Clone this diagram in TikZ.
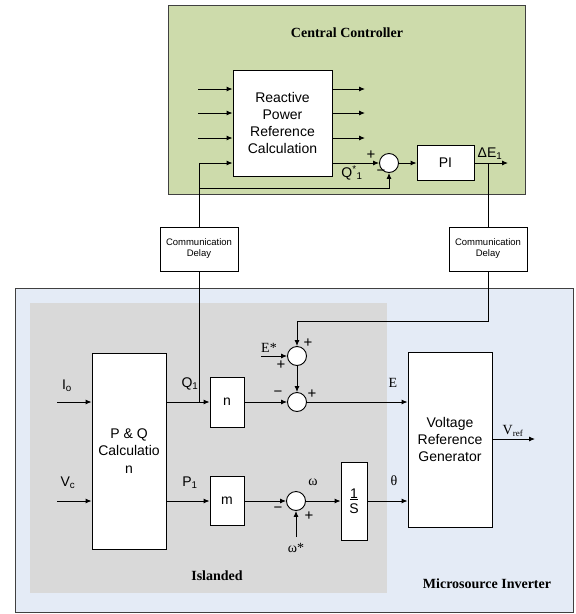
\documentclass[tikz,border=0pt]{standalone}
\usepackage{fontspec}
\setmainfont{Liberation Serif}
\setsansfont{Liberation Sans}
\usetikzlibrary{arrows.meta}
\definecolor{ccgreen}{HTML}{CDDBAB}
\definecolor{invblue}{HTML}{E4EBF6}
\definecolor{islgray}{HTML}{D9D9D9}
\definecolor{frame}{HTML}{404040}
\begin{document}
\begin{tikzpicture}[x=1pt,y=-1pt,line width=0.9pt,
  blk/.style={draw,fill=white,font=\sffamily\fontsize{14}{17.3}\selectfont,align=center,inner sep=0pt},
  cdbox/.style={draw,fill=white,font=\sffamily\fontsize{9.5}{11}\selectfont,align=center,inner sep=0pt,minimum width=78pt,minimum height=44pt,line width=0.7pt},
  sumc/.style={draw,fill=white,circle,minimum size=19pt,inner sep=0pt},
  arr/.style={-{Latex[length=6pt,width=5pt]}},
  slbl/.style={font=\sffamily\fontsize{14}{16}\selectfont,inner sep=0pt},
  rlbl/.style={font=\fontsize{14}{16}\selectfont,inner sep=0pt},
  sgn/.style={font=\sffamily\fontsize{15}{16}\selectfont,inner sep=0pt},
  title/.style={font=\bfseries\fontsize{14}{16}\selectfont,inner sep=0pt}]
\useasboundingbox (0,0) rectangle (576,614);
% containers
\filldraw[fill=ccgreen,draw=frame] (168,5) rectangle (525,194);
\filldraw[fill=invblue,draw=frame] (15,288) rectangle (573,612);
\fill[islgray] (30,303) rectangle (387,593);
\node[title] (tcc) at (347,33) {Central Controller};
\node[title] (tisl) at (217,576) {Islanded};
\node[title] (tinv) at (487,584) {Microsource Inverter};
% central controller blocks
\node[blk,minimum width=99pt,minimum height=106pt] (rprc) at (282.5,123) {Reactive\\Power\\Reference\\Calculation};
\node[sumc] (s1) at (389,163) {};
\node[blk,minimum width=57pt,minimum height=35pt] (pi) at (445.5,163) {PI};
\coordinate (in1) at (198,89);
\coordinate (in2) at (198,113);
\coordinate (in3) at (198,138);
\coordinate (out1) at (365,89);
\coordinate (out2) at (365,113);
\coordinate (out3) at (365,138);
\coordinate (qin) at (199,163);
\coordinate (fb) at (199,188);
\coordinate (pio) at (508,163);
\coordinate (de) at (488,163);
\draw[arr] (in1) -- (rprc.west |- in1);
\draw[arr] (in2) -- (rprc.west |- in2);
\draw[arr] (in3) -- (rprc.west |- in3);
\draw[arr] (rprc.east |- out1) -- (out1);
\draw[arr] (rprc.east |- out2) -- (out2);
\draw[arr] (rprc.east |- out3) -- (out3);
\draw[arr] (qin) -- (rprc.west |- qin);
\draw[arr] (rprc.east |- s1) -- (s1.west);
\draw[arr] (fb) -| (s1.south);
\draw[arr] (s1.east) -- (pi.west);
\draw[arr] (pi.east) -- (pio);
\node[slbl] at (352,173) {Q\textsuperscript{*}\textsubscript{1}};
\node[sgn] at (371,155) {+};
\node[sgn] at (381,173) {\textminus};
\node[slbl] at (490,154) {ΔE\textsubscript{1}};
% communication delays
\node[cdbox] (cd1) at (199,249) {Communication\\Delay};
\node[cdbox] (cd2) at (488,249) {Communication\\Delay};
\coordinate (j1) at (199,402);
\coordinate (k1) at (488,321);
\draw (qin) -- (cd1.north);
\draw (cd1.south) -- (j1);
\draw (de) -- (cd2.north);
% inverter blocks
\node[blk,minimum width=74pt,minimum height=196pt] (pq) at (129,451) {P \& Q\\Calculatio\\n};
\node[blk,minimum width=34pt,minimum height=50pt] (nb) at (227,402) {n};
\node[blk,minimum width=34pt,minimum height=49pt] (mb) at (227,501) {m};
\node[sumc] (s2) at (297,356) {};
\node[sumc] (s3) at (297,402) {};
\node[sumc] (s4) at (296,501) {};
\node[blk,minimum width=26pt,minimum height=78pt] (isb) at (354,501) {\underline{1}\\[-2pt]S};
\node[blk,minimum width=84pt,minimum height=175pt] (vrg) at (450,439.5) {Voltage\\Reference\\Generator};
\coordinate (io) at (57,402);
\coordinate (vc) at (57,501);
\coordinate (es) at (261,356);
\coordinate (ws) at (296,537);
\coordinate (vr) at (535,439);
\draw[arr] (io) -- (pq.west |- io);
\draw[arr] (vc) -- (pq.west |- vc);
\draw[arr] (pq.east |- nb) -- (nb.west);
\draw[arr] (pq.east |- mb) -- (mb.west);
\draw[arr] (cd2.south) -- (k1) -| (s2.north);
\draw[arr] (es) -- (s2.west);
\draw[arr] (s2.south) -- (s3.north);
\draw[arr] (nb.east) -- (s3.west);
\draw[arr] (s3.east) -- (vrg.west |- s3);
\draw[arr] (vrg.east |- vr) -- (vr);
\draw[arr] (mb.east) -- (s4.west);
\draw[arr] (ws) -- (s4.south);
\draw[arr] (s4.east) -- (isb.west);
\draw[arr] (isb.east) -- (vrg.west |- isb);
% labels
\node[slbl] at (67,386) {I\textsubscript{o}};
\node[slbl] at (68,483) {V\textsubscript{c}};
\node[slbl] at (190,384) {Q\textsubscript{1}};
\node[slbl] at (190,483) {P\textsubscript{1}};
\node[rlbl] at (269,348) {E*};
\node[sgn] at (308,343) {+};
\node[sgn] at (281,365) {+};
\node[sgn] at (278,394) {\textminus};
\node[sgn] at (312,394) {+};
\node[rlbl] at (393,383) {E};
\node[rlbl] at (513,431) {V\textsubscript{\fontsize{9}{9}\selectfont ref}};
\node[rlbl] at (313,482) {ω};
\node[rlbl] at (296,548) {ω*};
\node[rlbl] at (394,481) {θ};
\node[sgn] at (278,510) {\textminus};
\node[sgn] at (309,516) {+};
\end{tikzpicture}
\end{document}
